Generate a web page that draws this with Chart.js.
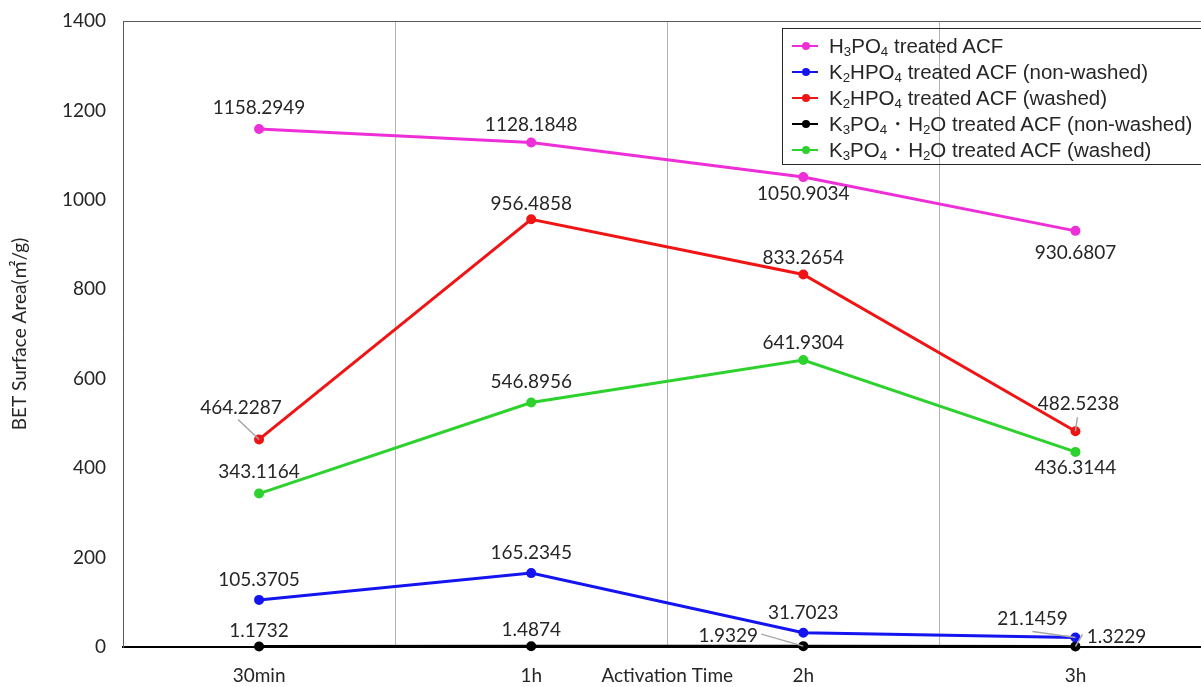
<!DOCTYPE html>
<html>
<head>
<meta charset="utf-8">
<script src="https://cdn.jsdelivr.net/npm/chart.js@4.4.1/dist/chart.umd.min.js"></script>
<style>
  html, body { margin:0; padding:0; background:#fff; overflow:hidden; width:1201px; height:687px; }
  #wrap { position:relative; width:1218px; height:687px; }
  #legend { position:absolute; left:782px; top:28px; width:440px; height:137px; border:1px solid #262626;
    font-family:"Liberation Sans", Arial, sans-serif; font-size:20.5px; color:#262626; box-sizing:border-box; }
  .item { position:absolute; left:0; height:26px; line-height:26px; white-space:nowrap; }
  .mk { position:absolute; left:9px; top:12px; width:26px; height:2px; }
  .dot { position:absolute; left:19px; top:9px; width:8px; height:8px; border-radius:50%; }
  .txt { position:absolute; left:46px; top:0; }
  sub { font-size:0.65em; vertical-align:-0.25em; line-height:0; }
</style>
</head>
<body>
<div id="wrap">
  <canvas id="c" width="1218" height="687"></canvas>
  <div id="legend"></div>
</div>
<script>
const categories = ["30min", "1h", "2h", "3h"];
const seriesNames = [
  "H<sub>3</sub>PO<sub>4</sub> treated ACF",
  "K<sub>2</sub>HPO<sub>4</sub> treated ACF (non-washed)",
  "K<sub>2</sub>HPO<sub>4</sub> treated ACF (washed)",
  "K<sub>3</sub>PO<sub>4</sub>・H<sub>2</sub>O treated ACF (non-washed)",
  "K<sub>3</sub>PO<sub>4</sub>・H<sub>2</sub>O treated ACF (washed)"
];
const plainNames = [
  "H3PO4 treated ACF",
  "K2HPO4 treated ACF (non-washed)",
  "K2HPO4 treated ACF (washed)",
  "K3PO4・H2O treated ACF (non-washed)",
  "K3PO4・H2O treated ACF (washed)"
];
const h3po4 = [1158.2949, 1128.1848, 1050.9034, 930.6807];
const k2hpo4NonWashed = [105.3705, 165.2345, 31.7023, 21.1459];
const k2hpo4Washed = [464.2287, 956.4858, 833.2654, 482.5238];
const k3po4NonWashed = [1.1732, 1.4874, 1.9329, 1.3229];
const k3po4Washed = [343.1164, 546.8956, 641.9304, 436.3144];
const yTicks = [0, 200, 400, 600, 800, 1000, 1200, 1400];
const seriesValues = [h3po4, k2hpo4NonWashed, k2hpo4Washed, k3po4NonWashed, k3po4Washed];
const colors = ["#EE2FD8", "#1414F0", "#F01414", "#000000", "#2ED22E"];

// label placement (style): [dx, dy, leaderFrom?]
const labelPlacement = [
  [[0,-21],[0,-18],[0,17],[0,22]],
  [[0,-20],[0,-20],[0,-20],[-43,-19,[-43,-6]]],
  [[-18,-32,[-21,-20]],[0,-15],[0,-17],[3,-27,[2,-14]]],
  [[0,-16],[0,-16],[-75,-10,[-42,-12]],[41,-10,[7,-12]]],
  [[0,-22],[0,-21],[0,-17],[0,16]]
];

const labelPlugin = {
  id: 'valueLabels',
  beforeDatasetsDraw(chart) {
    const ctx = chart.ctx, a = chart.chartArea;
    ctx.save();
    ctx.strokeStyle = '#595959';
    ctx.lineWidth = 1;
    ctx.beginPath();
    ctx.moveTo(a.left, Math.round(a.top) + 0.5);
    ctx.lineTo(a.right, Math.round(a.top) + 0.5);
    ctx.stroke();
    ctx.restore();
  },
  afterDatasetsDraw(chart) {
    const ctx = chart.ctx;
    ctx.save();
    ctx.font = '19px Lato';
    ctx.fillStyle = '#262626';
    ctx.textAlign = 'center';
    ctx.textBaseline = 'middle';
    chart.data.datasets.forEach((ds, di) => {
      const meta = chart.getDatasetMeta(di);
      meta.data.forEach((pt, i) => {
        const pl = labelPlacement[di][i];
        if (pl[2]) {
          ctx.strokeStyle = '#a6a6a6';
          ctx.lineWidth = 1.5;
          ctx.beginPath();
          ctx.moveTo(pt.x + pl[2][0], pt.y + pl[2][1]);
          ctx.lineTo(pt.x, pt.y);
          ctx.stroke();
        }
        ctx.fillText(ds.data[i].toFixed(4), pt.x + pl[0], pt.y + pl[1]);
      });
    });
    ctx.restore();
  }
};

const datasets = seriesValues.map((vals, i) => ({
  label: plainNames[i],
  data: vals,
  borderColor: colors[i],
  backgroundColor: colors[i],
  borderWidth: 3,
  pointRadius: 3.5,
  pointHoverRadius: 3.5,
  tension: 0,
  clip: false
}));

new Chart(document.getElementById('c'), {
  type: 'line',
  data: { labels: categories, datasets },
  plugins: [labelPlugin],
  options: {
    responsive: false,
    animation: false,
    events: [],
    layout: { padding: { top: 21, right: 0, left: 0, bottom: 0 } },
    plugins: { legend: { display: false }, tooltip: { enabled: false } },
    scales: {
      x: {
        offset: true,
        grid: { offset: true, color: '#b4b4b4', lineWidth: 1, drawTicks: false },
        border: { display: true, color: '#000000', width: 2 },
        ticks: { padding: 17, color: '#262626', font: { family: 'Lato', size: 19 } },
        title: { display: true, text: 'Activation Time', color: '#262626', padding: 0, font: { family: 'Lato', size: 19 } },
        afterFit(s) { s.height = 40; }
      },
      y: {
        min: 0, max: 1400,
        afterBuildTicks(s) { s.ticks = yTicks.map(v => ({ value: v })); },
        grid: { color: 'transparent', drawTicks: false },
        border: { display: true, color: '#595959', width: 1 },
        ticks: { padding: 17, color: '#262626', font: { family: 'Lato', size: 19 }, callback: v => String(v) },
        title: { display: true, text: 'BET Surface Area(㎡/g)', color: '#262626', padding: 8, font: { family: 'Lato, "Noto Sans CJK JP"', size: 19 } },
        afterFit(s) { s.width = 123; s.paddingTop = 0; s.paddingBottom = 0; }
      }
    }
  }
});

const lg = document.getElementById('legend');
seriesNames.forEach((n, i) => {
  const d = document.createElement('div');
  d.className = 'item';
  d.style.top = (4 + i * 26) + 'px';
  d.innerHTML = '<span class="mk" style="background:' + colors[i] + '"></span><span class="dot" style="background:' + colors[i] + '"></span><span class="txt">' + n + '</span>';
  lg.appendChild(d);
});
</script>
</body>
</html>
